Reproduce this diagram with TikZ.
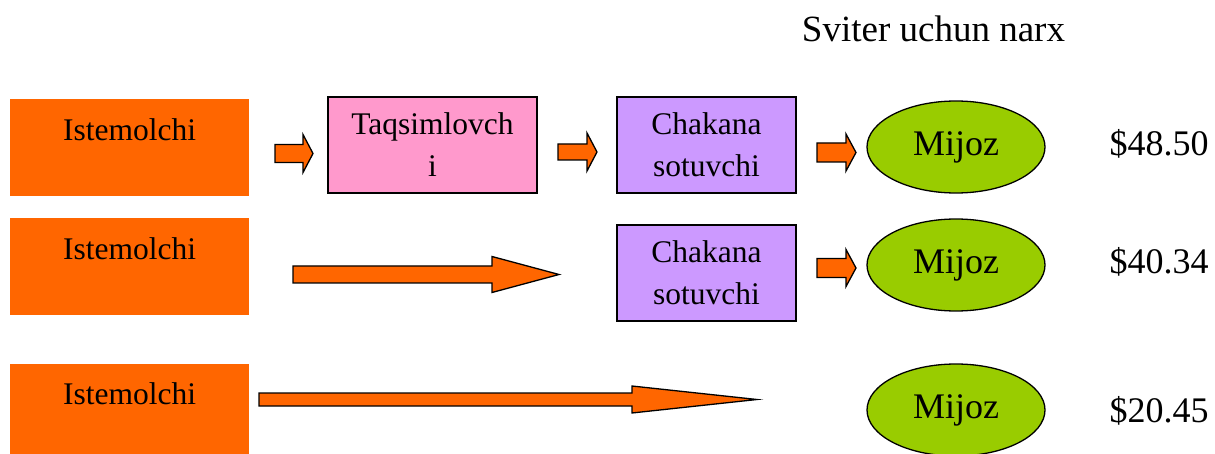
\documentclass[tikz,border=0pt]{standalone}
\usepackage{fontspec}
\setmainfont{Liberation Serif}
\usetikzlibrary{positioning,shapes.geometric}
\definecolor{ppOrange}{HTML}{FF6600}
\definecolor{ppPink}{HTML}{FF99CC}
\definecolor{ppLilac}{HTML}{CC99FF}
\definecolor{ppGreen}{HTML}{99CC00}

% block arrow: x start, x head, x tip, y centre, half body, half head
\newcommand{\blockarrow}[6]{%
  \draw[barrow] ({#1},{#4-#5}) -- ({#2},{#4-#5}) -- ({#2},{#4-#6}) -- ({#3},{#4})
    -- ({#2},{#4+#6}) -- ({#2},{#4+#5}) -- ({#1},{#4+#5}) -- cycle;}

\begin{document}
\begin{tikzpicture}[
  x=1pt, y=-1pt,
  boxfont/.style={font=\fontsize{31.5}{42}\selectfont},
  producer/.style={boxfont, fill=ppOrange, minimum width=239pt, inner sep=0pt,
                   text height=42pt, text depth=55pt},
  middleman/.style={boxfont, draw, line width=1.3pt, align=center, inner sep=0pt,
                    minimum height=96pt},
  distrib/.style={middleman, fill=ppPink, minimum width=209pt},
  retail/.style={middleman, fill=ppLilac, minimum width=179pt},
  buyer/.style={ellipse, draw, line width=1.3pt, fill=ppGreen, inner sep=0pt,
                minimum width=178pt, minimum height=92pt,
                font=\fontsize{36}{40}\selectfont},
  price/.style={anchor=base, font=\fontsize{36}{40}\selectfont},
  barrow/.style={fill=ppOrange, draw=black, line width=1.3pt, line join=miter},
]
\useasboundingbox (0,0) rectangle (1215,454);

% ---- Heading ----------------------------------------------------------------
\node[price, font=\fontsize{37}{40}\selectfont] (title) at (933.5,42) {Sviter uchun narx};

% ---- Row 1: producer -> distributor -> retailer -> customer -------------------
\node[producer] (ist1) at (129.5,147.5) {Istemolchi};
\node[distrib]  (taq)  at (432.5,145) {Taqsimlovch\\i};
\node[retail]   (chak1) at (706.5,145) {Chakana\\sotuvchi};
\node[buyer]    (mij1) at (956,147) {Mijoz};
\node[price]    (narx1) at (1159,156) {\$48.50};
\blockarrow{275}{303}{313}{153.5}{9}{19}
\blockarrow{558}{587}{597}{152}{8}{19}
\blockarrow{817}{846}{856}{152.5}{9.5}{18.5}

% ---- Row 2: producer -> retailer -> customer ----------------------------------
\node[producer] (ist2) at (129.5,266.5) {Istemolchi};
\node[retail]   (chak2) at (706.5,273) {Chakana\\sotuvchi};
\node[buyer]    (mij2) at (956,265) {Mijoz};
\node[price]    (narx2) at (1159,273) {\$40.34};
\blockarrow{293}{492}{559}{274.5}{8.5}{18}
\blockarrow{817}{846}{856}{268}{9.5}{18.5}

% ---- Row 3: producer -> customer ----------------------------------------------
\node[producer, text height=40pt, text depth=57pt] (ist3) at (129.5,412.5) {Istemolchi};
\node[buyer]    (mij3) at (956,410) {Mijoz};
\node[price]    (narx3) at (1159,422) {\$20.45};
\blockarrow{259}{632}{757}{399.5}{6.5}{13.5}

\end{tikzpicture}
\end{document}
